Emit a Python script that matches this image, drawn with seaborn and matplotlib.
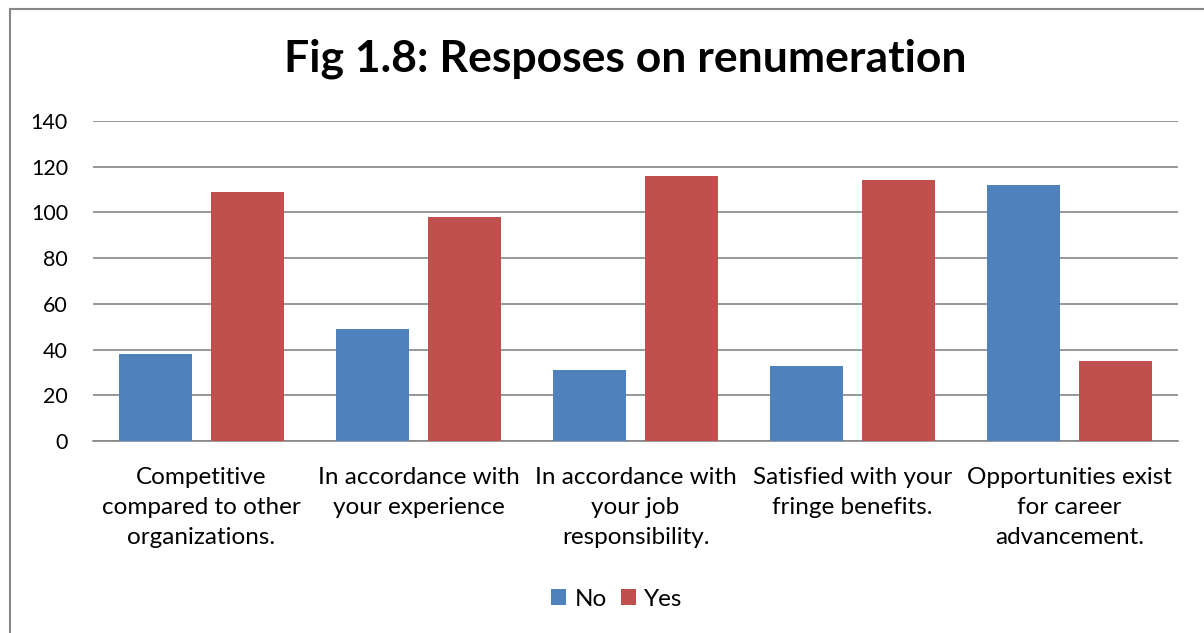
import matplotlib
matplotlib.use("Agg")
import matplotlib.pyplot as plt
import matplotlib.patches as mpatches
import seaborn as sns
import pandas as pd

categories = [
    "Competitive\ncompared to other\norganizations.",
    "In accordance with\nyour experience",
    "In accordance with\nyour job\nresponsibility.",
    "Satisfied with your\nfringe benefits.",
    "Opportunities exist\nfor career\nadvancement.",
]
no_values = [38, 49, 31, 33, 112]
yes_values = [109, 98, 116, 114, 35]
series = ["No", "Yes"]
colors = ["#4F81BD", "#C0504D"]
title = "Fig 1.8: Resposes on renumeration"

df = pd.DataFrame({
    "category": categories * 2,
    "value": no_values + yes_values,
    "series": [series[0]] * len(categories) + [series[1]] * len(categories),
})

sns.set_theme(style="white")
plt.rcParams["font.family"] = ["Lato", "DejaVu Sans"]
plt.rcParams["text.color"] = "black"

fig = plt.figure(figsize=(12.04, 6.33), dpi=100)
ax = fig.add_axes([93 / 1204, 1 - 441 / 633, (1178 - 93) / 1204, (441 - 121) / 633])

sns.barplot(data=df, x="category", y="value", hue="series", palette=colors,
            width=0.839, gap=0.198, saturation=1, ax=ax, zorder=3, legend=True,
            linewidth=0, edgecolor="none")

ax.set_ylim(0, 140)
ax.set_yticks(range(0, 141, 20))
ax.set_xlim(-0.5, len(categories) - 0.5)
ax.yaxis.grid(True, color="#868686", linewidth=1.2, zorder=0)
ax.set_axisbelow(True)
for s in ["left", "right", "top"]:
    ax.spines[s].set_visible(False)
ax.spines["bottom"].set_color("#868686")
ax.spines["bottom"].set_linewidth(1.2)
ax.set_xlabel("")
ax.set_ylabel("")
ax.tick_params(axis="both", length=0, colors="black")
ax.tick_params(axis="y", pad=18, labelsize=15.5)
ax.tick_params(axis="x", pad=19, labelsize=17.5)
for lab in ax.get_xticklabels():
    lab.set_linespacing(1.53)
for lab in ax.get_yticklabels():
    lab.set_horizontalalignment("right")

handles, labels = ax.get_legend_handles_labels()
ax.legend_.remove()
fig.legend(handles, labels, loc="center", bbox_to_anchor=(617 / 1204, 1 - 599 / 633),
           ncol=2, frameon=False, fontsize=17.5, handlelength=0.6, handleheight=0.6,
           handletextpad=0.35, columnspacing=0.6)

fig.text(625 / 1204, 1 - 59 / 633, title, ha="center", va="center",
         fontsize=32, fontweight="bold", color="black")

border = mpatches.Rectangle((10 / 1204, -0.1), 1.2, 1 - 9 / 633 + 0.1,
                            transform=fig.transFigure, fill=False,
                            edgecolor="#868686", linewidth=1.5, clip_on=False)
fig.patches.append(border)

fig.savefig("out.png", dpi=100, facecolor="white")
